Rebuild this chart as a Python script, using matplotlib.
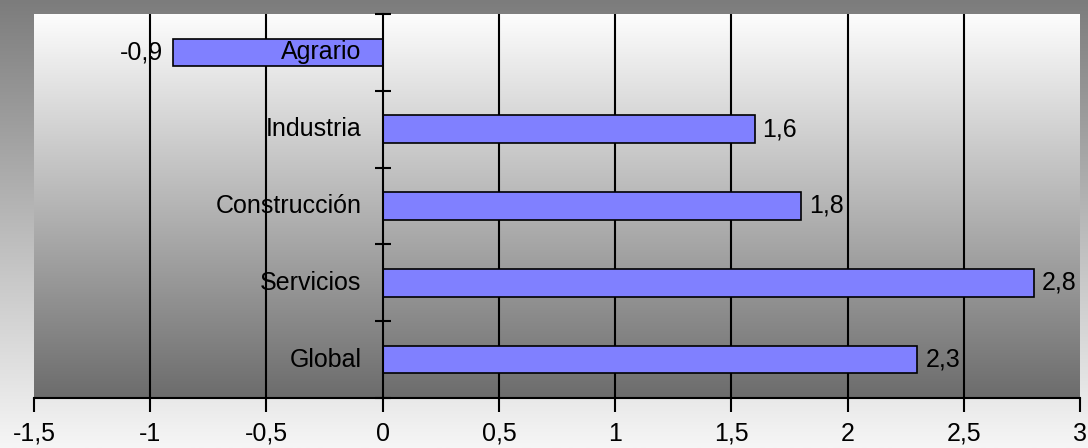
import numpy as np
import matplotlib.pyplot as plt
from matplotlib.colors import LinearSegmentedColormap
from matplotlib.ticker import FixedLocator

categories = ['Agrario', 'Industria', 'Construcción', 'Servicios', 'Global']
values = [-0.9, 1.6, 1.8, 2.8, 2.3]
xticks = [-1.5, -1, -0.5, 0, 0.5, 1, 1.5, 2, 2.5, 3]

plt.rcParams['font.family'] = ['Liberation Sans', 'DejaVu Sans']

fig = plt.figure(figsize=(10.88, 4.48), dpi=100)

# outer background: dark gray at top fading to near white at bottom
bg = fig.add_axes([0, 0, 1, 1], zorder=-10)
bg_cmap = LinearSegmentedColormap.from_list('bg', ['#7c7c7c', '#f6f6f6'])
bg.imshow(np.linspace(0, 1, 256).reshape(-1, 1), cmap=bg_cmap, aspect='auto',
          extent=[0, 1, 0, 1], origin='upper')
bg.axis('off')

ax = fig.add_axes([34 / 1088, 50 / 448, 1046 / 1088, 384 / 448])
ax.set_xlim(-1.5, 3)
ax.set_ylim(4.5, -0.5)

# plot area: white at top to dark gray at bottom
pa_cmap = LinearSegmentedColormap.from_list('pa', ['#fdfdfd', '#6c6c6c'])
ax.imshow(np.linspace(0, 1, 256).reshape(-1, 1), cmap=pa_cmap, aspect='auto',
          extent=[-1.5, 3, 4.5, -0.5], origin='upper', zorder=0)

for xv in xticks[1:-1]:
    if xv != 0:
        ax.axvline(xv, color='black', lw=1.5, zorder=1)

y = np.arange(len(categories))
ax.barh(y, values, height=0.36, color='#8080ff', edgecolor='black', lw=1.2, zorder=2)

for yi, cat, v in zip(y, categories, values):
    ax.annotate(cat, (0, yi), xytext=(-21, 0), textcoords='offset pixels',
                ha='right', va='center', fontsize=18, zorder=3)
    txt = f'{v:.1f}'.replace('.', ',')
    if v < 0:
        ax.annotate(txt, (v, yi), xytext=(-10, 0), textcoords='offset pixels',
                    ha='right', va='center', fontsize=18, zorder=3)
    else:
        ax.annotate(txt, (v, yi), xytext=(8, 0), textcoords='offset pixels',
                    ha='left', va='center', fontsize=18, zorder=3)

for s in ['top', 'right']:
    ax.spines[s].set_visible(False)
ax.spines['left'].set_position(('data', 0))
ax.spines['left'].set_linewidth(1.5)
ax.spines['left'].set_zorder(4)
ax.spines['bottom'].set_linewidth(1.5)

ax.yaxis.set_major_locator(FixedLocator(np.arange(-0.5, 5, 1)))
ax.set_yticklabels([])
ax.tick_params(axis='y', direction='inout', length=12, width=1.5, color='black')

ax.set_xticks(xticks)
ax.set_xticklabels([f'{t:g}'.replace('.', ',') for t in xticks], fontsize=18)
ax.tick_params(axis='x', direction='out', length=10, width=1.5, pad=7)

plt.savefig('out.png', dpi=100)
